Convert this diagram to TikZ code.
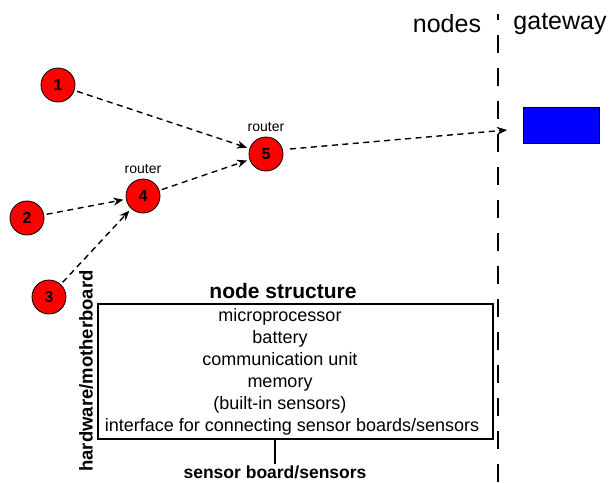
\documentclass[tikz,border=0pt]{standalone}
\usepackage{fontspec}
\setmainfont{Liberation Sans}
\usetikzlibrary{arrows.meta}
\begin{document}
\begin{tikzpicture}[x=1pt,y=-1pt,
  sensor/.style={circle,draw=black,line width=0.8pt,fill=red,minimum size=34pt,inner sep=0pt,
     font=\fontsize{16}{16}\selectfont\bfseries,outer sep=3pt},
  link/.style={line width=1.4pt,dash pattern=on 6pt off 4.5pt,-{Stealth[length=10pt,width=8pt]}},
  lbl/.style={font=\fontsize{14}{14}\selectfont,inner sep=0pt},
  boxtxt/.style={font=\fontsize{18}{18}\selectfont,inner sep=0pt,text height=13pt,text depth=4pt}
]
\useasboundingbox (0,0) rectangle (610,482);
% sensor nodes
\node[sensor] (n1) at (58,85) {1};
\node[sensor] (n2) at (27,218) {2};
\node[sensor] (n3) at (49,297) {3};
\node[sensor] (n4) at (143,196) {4};
\node[sensor] (n5) at (266,154) {5};
\node[lbl] (r4) at (143,169) {router};
\node[lbl] (r5) at (266,127) {router};
% connectors
\coordinate (gw) at (507,130);
\draw[link] (n1) -- (n5);
\draw[link] (n2) -- (n4);
\draw[link] (n3) -- (n4);
\draw[link] (n4) -- (n5);
\draw[link] (n5.east) ++(4,-5) -- (gw);
% divider
\coordinate (dtop) at (498,14);
\coordinate (dbot) at (498,482);
\draw[line width=1.3pt,dash pattern=on 18pt off 15pt,dash phase=12pt] (dtop) -- (dbot);
\node[font=\fontsize{25}{25}\selectfont,inner sep=0pt] (nodes) at (447,24) {nodes};
\node[font=\fontsize{25}{25}\selectfont,inner sep=0pt] (gateway) at (560,24) {gateway};
% gateway
\node[draw=black,line width=0.6pt,fill=blue,minimum width=76pt,minimum height=36pt,inner sep=0pt] (gwbox) at (561,125) {};
% node structure
\node[font=\fontsize{21}{21}\selectfont\bfseries,inner sep=0pt] (title) at (283,291) {node structure};
\node[draw=black,line width=1.3pt,minimum width=395pt,minimum height=135pt,inner sep=0pt] (box) at (295.5,371.5) {};
\node[boxtxt] (t1) at (280,317) {microprocessor};
\node[boxtxt] (t2) at (280,339) {battery};
\node[boxtxt] (t3) at (280,361) {communication unit};
\node[boxtxt] (t4) at (280,383) {memory};
\node[boxtxt] (t5) at (280,405) {(built-in sensors)};
\node[boxtxt] (t6) at (292,427) {interface for connecting sensor boards/sensors};
\node[font=\fontsize{18.5}{18.5}\selectfont\bfseries,inner sep=0pt,rotate=90] (hw) at (86,371) {hardware/motherboard};
\node[font=\fontsize{17.5}{17.5}\selectfont\bfseries,inner sep=0pt] (sb) at (275,472) {sensor board/sensors};
\draw[line width=1.3pt] (box.south -| 275,0) -- (275,464);
\end{tikzpicture}
\end{document}
